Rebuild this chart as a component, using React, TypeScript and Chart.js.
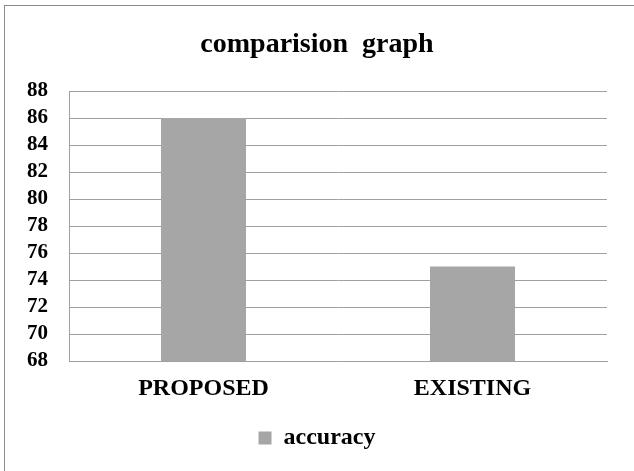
import React, { useEffect, useRef } from "react";
import { Chart, registerables } from "chart.js";

Chart.register(...registerables);

const categories = ["PROPOSED", "EXISTING"];
const accuracy = [86, 75];
const seriesName = "accuracy";
const titleText = "comparision  graph";
const yMin = 68;
const yMax = 88;
const yStep = 2;

const FONT = "'Liberation Serif', 'Times New Roman', serif";

const borderPlugin = {
  id: "outerBorder",
  beforeDraw(chart: any) {
    const ctx = chart.ctx;
    ctx.save();
    ctx.fillStyle = "#ffffff";
    ctx.fillRect(0, 0, chart.width, chart.height);
    ctx.strokeStyle = "#8c8c8c";
    ctx.lineWidth = 1;
    ctx.strokeRect(4.5, 5.5, chart.width + 20, chart.height + 20);
    ctx.restore();
  },
};

export default function App() {
  const ref = useRef<HTMLCanvasElement | null>(null);
  useEffect(() => {
    document.body.style.margin = "0";
    const chart = new Chart(ref.current as HTMLCanvasElement, {
      type: "bar",
      data: {
        labels: categories,
        datasets: [
          {
            label: seriesName,
            data: accuracy,
            backgroundColor: "#a6a6a6",
            borderWidth: 0,
            categoryPercentage: 1,
            barPercentage: 0.316,
            yAxisID: "y",
          },
        ],
      },
      options: {
        animation: false,
        responsive: false,
        devicePixelRatio: 1,
        layout: { padding: { left: 0, right: 0, top: 0, bottom: 11 } },
        plugins: {
          title: {
            display: true,
            text: titleText,
            color: "#000",
            font: { family: FONT, size: 28, weight: "bold", lineHeight: 1.2 },
            padding: { top: 28, bottom: 29.4 },
          },
          legend: {
            display: true,
            position: "bottom",
            labels: {
              color: "#000",
              boxWidth: 13,
              boxHeight: 13,
              padding: 10,
              font: { family: FONT, size: 24, weight: "bold" },
            },
          },
          tooltip: { enabled: false },
        },
        scales: {
          x: {
            grid: { display: false, drawTicks: false },
            border: { display: true, color: "#a0a0a0" },
            afterFit(scale: any) {
              scale.height = 55;
            },
            ticks: {
              color: "#000",
              padding: 13,
              font: { family: FONT, size: 24, weight: "bold" },
            },
          },
          y: {
            min: yMin,
            max: yMax,
            afterFit(scale: any) {
              scale.width = 69;
            },
            grid: { color: "#a0a0a0", drawTicks: false, lineWidth: 1 },
            border: { display: true, color: "#a0a0a0" },
            ticks: {
              stepSize: yStep,
              autoSkip: false,
              color: "#000",
              padding: 21,
              font: { family: FONT, size: 21, weight: "bold" },
            },
          },
          yRight: {
            type: "linear",
            position: "right",
            display: true,
            grid: { display: false, drawTicks: false },
            border: { display: false },
            ticks: { display: false },
            afterFit(scale: any) {
              scale.width = 27;
            },
          },
        },
      },
      plugins: [borderPlugin],
    });
    return () => chart.destroy();
  }, []);
  return (
    <div style={{ width: 634, height: 471 }}>
      <canvas ref={ref} width={634} height={471} style={{ display: "block" }} />
    </div>
  );
}
